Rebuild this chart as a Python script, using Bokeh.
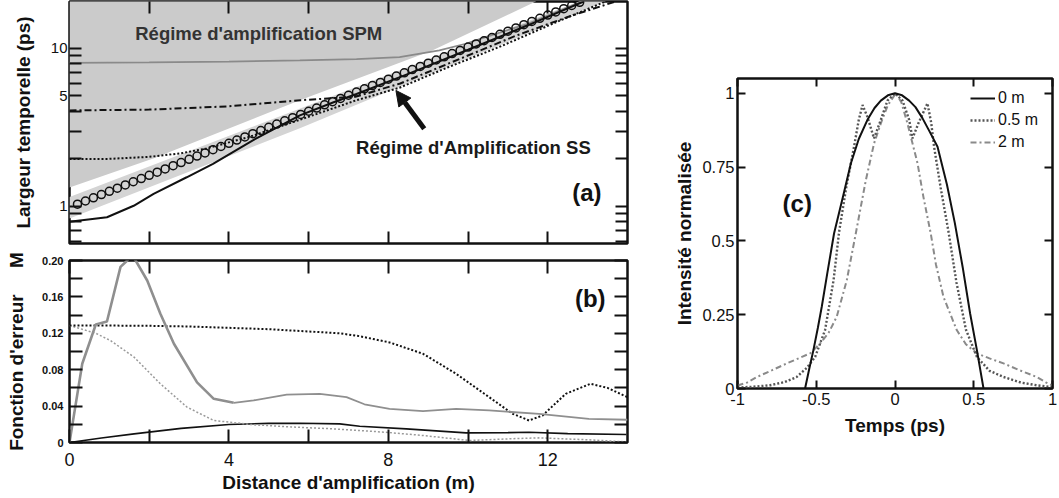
from bokeh.plotting import figure
from bokeh.models import (LinearAxis, LogAxis, FixedTicker, Label, Arrow, NormalHead,
                          Legend, LegendItem, Range1d, CustomLabelingPolicy)
from bokeh.layouts import row, column
from bokeh.embed import file_html
from bokeh.resources import INLINE

FONT = "Liberation Sans"

# ---------------- panel (a) data ----------------
dist_circ = [0.2, 0.4, 0.6, 0.8, 1.0, 1.2, 1.4, 1.6, 1.8, 2.0, 2.2, 2.4, 2.6, 2.8, 3.0, 3.2,
             3.4, 3.6, 3.8, 4.0, 4.2, 4.4, 4.6, 4.8, 5.0, 5.2, 5.4, 5.6, 5.8, 6.0, 6.2, 6.4,
             6.6, 6.8, 7.0, 7.2, 7.4, 7.6, 7.8, 8.0, 8.2, 8.4, 8.6, 8.8, 9.0, 9.2, 9.4, 9.6,
             9.8, 10.0, 10.2, 10.4, 10.6, 10.8, 11.0, 11.2, 11.4, 11.6, 11.8, 12.0, 12.2,
             12.4, 12.6, 12.8]
width_circ = [1.033, 1.083, 1.135, 1.189, 1.246, 1.305, 1.368, 1.433, 1.501, 1.573, 1.648,
              1.727, 1.810, 1.896, 1.987, 2.082, 2.181, 2.285, 2.395, 2.509, 2.629, 2.754,
              2.886, 3.024, 3.170, 3.321, 3.480, 3.646, 3.820, 4.003, 4.194, 4.394, 4.604,
              4.824, 5.054, 5.296, 5.549, 5.814, 6.092, 6.383, 6.687, 7.007, 7.342, 7.692,
              8.060, 8.445, 8.848, 9.271, 9.714, 10.19, 10.67, 11.18, 11.72, 12.28, 12.86,
              13.48, 14.12, 14.80, 15.50, 16.24, 17.02, 17.83, 18.68, 19.58]

dist_solid = [0, 0.94, 1.61, 2.11, 2.94, 3.6, 4.6, 5.78, 6.61, 7.2, 8.5, 10.0, 11.5, 12.9]
width_solid = [0.80, 0.855, 1.01, 1.20, 1.53, 1.86, 2.62, 3.77, 4.55, 5.15, 6.9, 9.8, 14.0, 19.8]

dist_dot = [0, 1.0, 2.0, 2.8, 3.44, 4.5, 5.8, 7.19, 8.28, 9.5, 10.78, 12.2, 13.45]
width_dot = [2.0, 2.0, 2.06, 2.17, 2.33, 2.75, 3.55, 4.69, 5.64, 7.6, 10.2, 14.6, 19.8]

dist_dd = [0, 2.0, 4.0, 5.8, 7.19, 8.3, 9.5, 11.19, 12.5, 13.7]
width_dd = [4.05, 4.1, 4.3, 4.7, 4.95, 6.0, 8.0, 12.0, 15.8, 19.8]

dist_gray = [0, 2, 4, 5.78, 7.2, 8.28, 9.28, 9.94, 10.44, 11.5, 12.85]
width_gray = [8.1, 8.15, 8.25, 8.4, 8.55, 8.8, 9.7, 10.7, 11.8, 14.3, 19.8]

spm_x = [0, 2.1, 5.78, 9.1, 11.7, 11.7, 0]
spm_y = [1.32, 2.01, 4.69, 9.7, 19.8, 30, 30]

band_x = [0, 12.78, 14, 14, 12.28, 5.78, 0]
band_y = [1.146, 19.8, 26, 22.7, 15.0, 3.12, 0.84]

# ---------------- panel (b) data ----------------
b_x_gray1 = [0, 0.32, 0.66, 0.94, 1.28, 1.45, 1.55, 1.66, 1.95, 2.28, 2.62, 3.2, 3.62, 4.12]
b_y_gray1 = [0, 0.0865, 0.1297, 0.133, 0.193, 0.2, 0.206, 0.2, 0.178, 0.1414, 0.1085, 0.066,
             0.048, 0.0436]
b_x_gray2 = [4.12, 4.62, 5.45, 6.28, 6.95, 7.4, 8.03, 8.87, 9.7, 10.53, 11.78, 13.03, 14.0]
b_y_gray2 = [0.0436, 0.0462, 0.0527, 0.0535, 0.0498, 0.042, 0.037, 0.0344, 0.037, 0.0352,
             0.0315, 0.026, 0.025]

b_x_dot = [0, 1, 2, 3, 4, 5, 6, 6.78, 7.28, 8.03, 8.87, 9.7, 10.53, 11.12, 11.53, 11.87,
           12.45, 13.07, 13.5, 14.0]
b_y_dot = [0.1286, 0.1285, 0.1282, 0.1275, 0.126, 0.1245, 0.122, 0.12, 0.1168, 0.110, 0.0975,
           0.0755, 0.0498, 0.0315, 0.0242, 0.0297, 0.0535, 0.0645, 0.06, 0.0498]

b_x_gdot = [0, 0.66, 1.03, 1.62, 2.28, 2.95, 3.62, 4.62, 5.6, 6.62, 7.28, 8.0, 8.87, 10.03,
            11.0, 11.78, 13.0, 13.97]
b_y_gdot = [0.1286, 0.120, 0.112, 0.0938, 0.0645, 0.0388, 0.0242, 0.0195, 0.017, 0.015,
            0.0132, 0.011, 0.0077, 0.0022, 0.004, 0.0051, 0.003, 0.0007]

b_x_solid = [0, 0.8, 1.62, 2.8, 4.0, 5.0, 5.78, 6.78, 7.28, 8.45, 9.95, 11.0, 11.53, 12.5, 13.97]
b_y_solid = [0, 0.005, 0.0095, 0.0155, 0.0198, 0.021, 0.0212, 0.0205, 0.0179, 0.015, 0.0106,
             0.0108, 0.0113, 0.0098, 0.0088]

# ---------------- panel (c) data ----------------
t_0m = [-0.571, -0.545, -0.518, -0.49, -0.465, -0.43, -0.387, -0.33, -0.28, -0.23, -0.175,
        -0.13, -0.09, -0.045, 0, 0.045, 0.09, 0.13, 0.175, 0.22, 0.27, 0.33, 0.38, 0.43,
        0.477, 0.52, 0.562]
i_0m = [0, 0.065, 0.13, 0.205, 0.277, 0.39, 0.525, 0.65, 0.763, 0.845, 0.91, 0.95, 0.975,
        0.993, 1.0, 0.993, 0.975, 0.953, 0.915, 0.87, 0.819, 0.69, 0.56, 0.41, 0.254, 0.13, 0]

t_05m = [-1.0, -0.9, -0.793, -0.7, -0.624, -0.56, -0.507, -0.444, -0.39, -0.355, -0.31, -0.26,
         -0.23, -0.206, -0.175, -0.133, -0.09, -0.048, 0, 0.048, 0.09, 0.111, 0.15, 0.206, 0.23,
         0.248, 0.29, 0.34, 0.39, 0.45, 0.52, 0.6, 0.689, 0.8, 0.9, 1.0]
i_05m = [0.003, 0.006, 0.011, 0.022, 0.039, 0.07, 0.107, 0.198, 0.367, 0.53, 0.68, 0.819,
         0.91, 0.96, 0.92, 0.847, 0.91, 0.975, 1.0, 0.975, 0.91, 0.847, 0.9, 0.966, 0.9,
         0.819, 0.68, 0.53, 0.36, 0.2, 0.107, 0.06, 0.039, 0.02, 0.011, 0.004]

t_2m = [-1.0, -0.94, -0.877, -0.78, -0.687, -0.6, -0.539, -0.476, -0.42, -0.37, -0.306, -0.249,
        -0.185, -0.133, -0.09, -0.045, 0.005, 0.04, 0.079, 0.143, 0.18, 0.227, 0.26, 0.308,
        0.392, 0.45, 0.52, 0.6, 0.689, 0.8, 0.9, 0.96, 1.0]
i_2m = [0.01, 0.02, 0.039, 0.062, 0.085, 0.105, 0.119, 0.152, 0.19, 0.243, 0.367, 0.525,
        0.706, 0.83, 0.898, 0.96, 1.0, 0.97, 0.898, 0.763, 0.65, 0.525, 0.42, 0.31, 0.198,
        0.15, 0.119, 0.102, 0.085, 0.06, 0.039, 0.02, 0.01]

legend_labels = ["0 m", "0.5 m", "2 m"]

HIDE = "for (const i of indices) { indices.unset(i) }\nreturn indices"
NBSP = "\u00a0"


def style_axis(ax, tick_len, show_labels=True, size="15px", bold=False, standoff=3,
               minor_len=0):
    ax.axis_line_color = None
    ax.major_tick_in = tick_len
    ax.major_tick_out = 0
    ax.major_tick_line_width = 2
    ax.major_tick_line_color = "#111111"
    ax.minor_tick_in = minor_len
    ax.minor_tick_out = 0
    ax.minor_tick_line_width = 2
    ax.minor_tick_line_color = "#111111"
    ax.major_label_text_font = FONT
    ax.major_label_text_color = "#111111"
    ax.major_label_text_font_style = "bold" if bold else "normal"
    if show_labels:
        ax.major_label_text_font_size = size
        ax.major_label_standoff = standoff
    else:
        ax.major_label_text_font_size = "0px"
        ax.major_label_standoff = 0
        ax.major_label_policy = CustomLabelingPolicy(code=HIDE)


def label_style(ax, text, standoff, size="19px"):
    ax.axis_label = text
    ax.axis_label_text_font = FONT
    ax.axis_label_text_font_style = "bold"
    ax.axis_label_text_font_size = size
    ax.axis_label_text_color = "#111111"
    ax.axis_label_standoff = standoff


def base(p):
    p.outline_line_color = "#111111"
    p.outline_line_width = 2.5
    p.outline_line_alpha = 1
    p.grid.visible = False
    p.background_fill_color = "white"
    p.border_fill_color = "white"


# ====================== panel (a) ======================
pa = figure(width=630, height=251, x_range=Range1d(0, 14), y_range=Range1d(0.583, 19.8),
            y_axis_type="log", output_backend="svg", toolbar_location=None,
            min_border_left=69, min_border_right=3, min_border_top=1, min_border_bottom=8)
base(pa)

xt_a = FixedTicker(ticks=[2, 4, 6, 8, 10, 12], minor_ticks=[])
yt_a = FixedTicker(ticks=[1, 5, 10], minor_ticks=[0.6, 0.7, 0.8, 0.9, 2, 3, 4, 6, 7, 8, 9, 20])

pa.xaxis.ticker = xt_a
style_axis(pa.xaxis[0], 12, show_labels=False)
top_a = LinearAxis(ticker=xt_a)
style_axis(top_a, 12, show_labels=False)
pa.add_layout(top_a, "above")

pa.yaxis.ticker = yt_a
pa.yaxis.major_label_overrides = {1: "1", 5: "5", 10: "10"}
style_axis(pa.yaxis[0], 12, size="15px", standoff=2, minor_len=12)
label_style(pa.yaxis[0], "Largeur temporelle (ps)", 14)
right_a = LogAxis(ticker=yt_a)
style_axis(right_a, 12, show_labels=False, minor_len=12)
pa.add_layout(right_a, "right")

pa.patch(spm_x, spm_y, fill_color="#cbcbcb", line_color=None)
pa.patch(band_x, band_y, fill_color="#d4d4d4", line_color=None)

pa.line(dist_gray, width_gray, line_color="#8a8a8a", line_width=1.8)
pa.line(dist_dd, width_dd, line_color="#111111", line_width=2, line_dash="7 3 2 3")
pa.line(dist_dot, width_dot, line_color="#111111", line_width=2, line_dash="2 2")
pa.line(dist_solid, width_solid, line_color="#111111", line_width=2)
pa.scatter(dist_circ, width_circ, size=8, marker="circle", fill_color=None,
           line_color="#111111", line_width=1.5)

pa.add_layout(Label(x=1.65, y=12.45, text="Régime d'amplification SPM", text_font=FONT,
                    text_font_style="bold", text_font_size="18.5px", text_color="#333333",
                    text_baseline="middle", text_align="left"))
pa.add_layout(Label(x=7.19, y=2.37, text="Régime d'Amplification SS", text_font=FONT,
                    text_font_style="bold", text_font_size="18.5px", text_color="#1a1a1a",
                    text_baseline="middle", text_align="left"))
pa.add_layout(Label(x=13.35, y=1.23, text="(a)", text_font=FONT, text_font_style="bold",
                    text_font_size="24px", text_color="#111111", text_baseline="middle",
                    text_align="right"))
pa.add_layout(Arrow(end=NormalHead(size=15, fill_color="#111111", line_color="#111111"),
                    x_start=8.9, y_start=3.1, x_end=8.19, y_end=5.42,
                    line_width=5, line_color="#111111"))

# ====================== panel (b) ======================
pb = figure(width=630, height=246, x_range=Range1d(0, 14), y_range=Range1d(0, 0.2),
            output_backend="svg", toolbar_location=None,
            min_border_left=69, min_border_right=3, min_border_top=9, min_border_bottom=55)
base(pb)

xt_b = FixedTicker(ticks=[0, 4, 8, 12], minor_ticks=[2, 6, 10])
yt_b = FixedTicker(ticks=[0, 0.04, 0.08, 0.12, 0.16, 0.2],
                   minor_ticks=[0.02, 0.06, 0.1, 0.14, 0.18])
pb.xaxis.ticker = xt_b
style_axis(pb.xaxis[0], 13, size="18px", standoff=10, minor_len=13)
label_style(pb.xaxis[0], "Distance d'amplification (m)", 3)
top_b = LinearAxis(ticker=xt_b)
style_axis(top_b, 13, show_labels=False, minor_len=13)
pb.add_layout(top_b, "above")

pb.yaxis.ticker = yt_b
pb.yaxis.major_label_overrides = {0: "0", 0.04: "0.04", 0.08: "0.08", 0.12: "0.12",
                                  0.16: "0.16", 0.2: "0.20"}
style_axis(pb.yaxis[0], 13, size="11px", bold=True, standoff=6, minor_len=13)
label_style(pb.yaxis[0], "Fonction d'erreur" + NBSP * 5 + "M", 12)
right_b = LinearAxis(ticker=yt_b)
style_axis(right_b, 13, show_labels=False, minor_len=13)
pb.add_layout(right_b, "right")

pb.line(b_x_solid, b_y_solid, line_color="#111111", line_width=1.6)
pb.line(b_x_gdot, b_y_gdot, line_color="#9a9a9a", line_width=1.5, line_dash="2 2")
pb.line(b_x_dot, b_y_dot, line_color="#111111", line_width=2, line_dash="2 2")
pb.line(b_x_gray1, b_y_gray1, line_color="#8f8f8f", line_width=2.6)
pb.line(b_x_gray2, b_y_gray2, line_color="#8f8f8f", line_width=1.8)

pb.add_layout(Label(x=13.45, y=0.158, text="(b)", text_font=FONT, text_font_style="bold",
                    text_font_size="24px", text_color="#111111", text_baseline="middle",
                    text_align="right"))

# ====================== panel (c) ======================
pc = figure(width=427, height=497, x_range=Range1d(-1, 1), y_range=Range1d(0, 1.05),
            output_backend="svg", toolbar_location=None,
            min_border_left=107, min_border_right=5, min_border_top=78, min_border_bottom=109)
base(pc)

xt_c = FixedTicker(ticks=[-1, -0.5, 0, 0.5, 1], minor_ticks=[])
yt_c = FixedTicker(ticks=[0, 0.25, 0.5, 0.75, 1], minor_ticks=[])
pc.xaxis.ticker = xt_c
pc.xaxis.major_label_overrides = {-1: "-1", -0.5: "-0.5", 0: "0", 0.5: "0.5", 1: "1"}
style_axis(pc.xaxis[0], 8, size="16.5px", standoff=4)
label_style(pc.xaxis[0], "Temps (ps)", 7)
top_c = LinearAxis(ticker=xt_c)
style_axis(top_c, 8, show_labels=False)
pc.add_layout(top_c, "above")

pc.yaxis.ticker = yt_c
pc.yaxis.major_label_overrides = {0: "0", 0.25: "0.25", 0.5: "0.5", 0.75: "0.75", 1: "1"}
style_axis(pc.yaxis[0], 8, size="16.5px", standoff=3)
label_style(pc.yaxis[0], "Intensité normalisée", 4)
right_c = LinearAxis(ticker=yt_c)
style_axis(right_c, 8, show_labels=False)
pc.add_layout(right_c, "right")

r2 = pc.line(t_2m, i_2m, line_color="#8a8a8a", line_width=2, line_dash="6 3 2 3")
r05 = pc.line(t_05m, i_05m, line_color="#555555", line_width=2.4, line_dash="2 2")
r0 = pc.line(t_0m, i_0m, line_color="#111111", line_width=2)

legend = Legend(items=[LegendItem(label=legend_labels[0], renderers=[r0]),
                       LegendItem(label=legend_labels[1], renderers=[r05]),
                       LegendItem(label=legend_labels[2], renderers=[r2])],
                location=(233, 236), padding=0, margin=0, spacing=2,
                label_height=20, glyph_height=20, glyph_width=25, label_standoff=3,
                label_text_font=FONT, label_text_font_size="16px",
                label_text_color="#111111", border_line_color=None,
                background_fill_alpha=0)
pc.add_layout(legend)

pc.add_layout(Label(x=-0.714, y=0.627, text="(c)", text_font=FONT, text_font_style="bold",
                    text_font_size="24px", text_color="#111111", text_baseline="middle",
                    text_align="left"))

layout = row(column(pa, pb), pc)
open("out.html", "w").write(file_html(layout, INLINE))
